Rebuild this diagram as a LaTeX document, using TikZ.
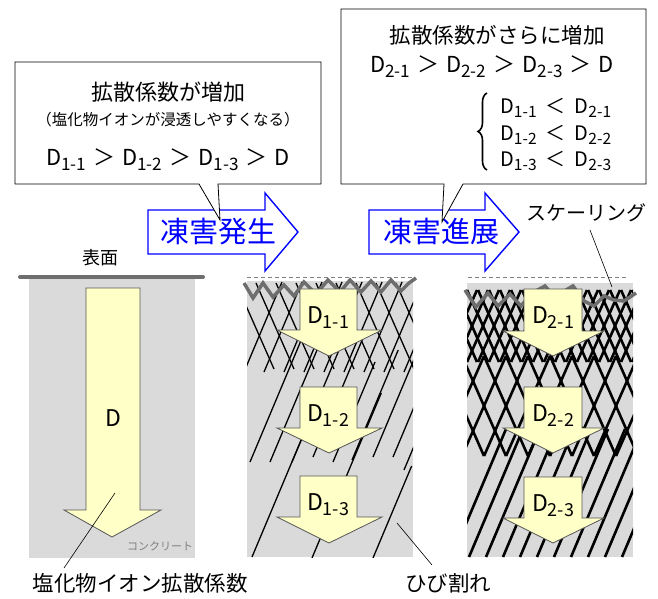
\documentclass[tikz,border=0pt]{standalone}
\usepackage{fontspec}
\setmainfont{Noto Sans CJK JP}
\usetikzlibrary{decorations.pathreplacing}

\definecolor{concrete}{HTML}{DADADA}
\definecolor{flowfill}{HTML}{FFFFC8}
\definecolor{flowedge}{HTML}{555555}
\definecolor{surface}{HTML}{6E6E6E}
\definecolor{frostblue}{HTML}{0000FF}

\newcommand\fsz[1]{\fontsize{#1}{#1}\selectfont}
\newcommand\Dsub[1]{D\raisebox{-0.22em}{\scalebox{0.78}{#1}}}
\newcommand\gtr{\hspace{0.32em}＞\hspace{0.32em}}
\newcommand\lss{\hspace{0.45em}＜\hspace{0.45em}}

\tikzset{
  x=1pt, y=-1pt,
  concretebox/.style={fill=concrete, draw=none},
  flowarrow/.style={fill=flowfill, draw=flowedge, line width=0.8pt, line join=miter},
  crack/.style={black, line width=1.3pt},
  heavycrack/.style={black, line width=2.6pt},
  surfaceline/.style={surface, line width=3.5pt, line join=miter},
  oldsurface/.style={gray, line width=0.7pt, dash pattern=on 4pt off 3pt},
  callout/.style={fill=white, draw=black, line width=0.8pt, line join=miter},
  stagearrow/.style={fill=white, draw=frostblue, line width=1.4pt, line join=miter},
  stagetext/.style={text=frostblue, font=\fsz{29}, inner sep=0pt},
  lbl/.style={inner sep=0pt, text=black},
  leader/.style={black, line width=0.6pt},
}

\begin{document}
\begin{tikzpicture}
\useasboundingbox (0,0) rectangle (658,599);

% ---------- sound concrete ----------
\fill[concretebox] (29,278) rectangle (195,558);
\draw[surface, line width=4pt, line cap=round] (20,277) -- (203,277);
\node[lbl, font=\fsz{18}] (hyomen) at (100,258) {表面};
\draw[flowarrow] (86,288) -- (140,288) -- (140,510) -- (161,510) -- (112,537)
  -- (64,510) -- (86,510) -- cycle;
\node[lbl, font=\fsz{23}] (dD) at (113,418) {D};
\node[lbl, font=\fsz{11}, text=gray] (conc) at (160,546) {コンクリート};
\coordinate (leadA) at (115,493);
\node[lbl, font=\fsz{21.5}] (diffA) at (140,583) {塩化物イオン拡散係数};
\draw[leader] (leadA) -- (64,568);

% ---------- frost damage onset ----------
\fill[concretebox] (247,281) rectangle (413,557);
\begin{scope}
  \clip (247,281) rectangle (413,557);
  \foreach \x in {236,256,...,416} \draw[crack] (\x,283) -- ++(38,86);
  \foreach \x in {244,264,...,424} \draw[crack] (\x,372) -- ++(38,-90);
  \foreach \x/\y/\h in {250/462/125, 270/462/125, 292/462/110, 313/457/120,
      333/462/100, 352/460/110, 373/457/115, 393/457/110,
      252/557/122, 312/558/165, 373/558/92, 404/470/35}
    \draw[crack] (\x,\y) -- ++({0.42*\h},{-\h});
\end{scope}
\draw[oldsurface] (247,277) -- (415,277);
\draw[surfaceline] (244,283) -- (253,298) -- (263,283) -- (273,297) -- (284,285)
  -- (294,296) -- (304,282) -- (316,294) -- (328,280) -- (340,292) -- (350,280)
  -- (361,292) -- (371,281) -- (381,292) -- (391,280) -- (401,291) -- (409,283)
  -- (416,278);
\draw[flowarrow] (300,289) -- (357,289) -- (357,330) -- (382,330) -- (329,356)
  -- (277,330) -- (300,330) -- cycle;
\draw[flowarrow] (300,387) -- (357,387) -- (357,428) -- (382,428) -- (329,453)
  -- (277,428) -- (300,428) -- cycle;
\draw[flowarrow] (300,476) -- (357,476) -- (357,517) -- (382,517) -- (329,543)
  -- (277,517) -- (300,517) -- cycle;
\node[lbl, font=\fsz{23}] (d11) at (328,318) {\Dsub{1-1}};
\node[lbl, font=\fsz{23}] (d12) at (328,416) {\Dsub{1-2}};
\node[lbl, font=\fsz{23}] (d13) at (328,505) {\Dsub{1-3}};
\coordinate (leadB) at (397,523);
\node[lbl, font=\fsz{21.5}] (crk) at (448,583) {ひび割れ};
\draw[leader] (leadB) -- (432,565);

% ---------- frost damage progressed ----------
\fill[concretebox] (467,283) rectangle (633,557);
\begin{scope}
  \clip (467,283) rectangle (633,557);
  \foreach \x in {434,445,...,640} {
    \draw[heavycrack] (\x,290) -- ++(32,72);
    \draw[heavycrack] (\x,362) -- ++(32,-72);
  }
  \foreach \x in {440,462,...,640} {
    \draw[heavycrack] (\x,356) -- ++(44,100);
    \draw[heavycrack] (\x,456) -- ++(44,-100);
  }
  \foreach \x in {452,469,...,640}
    \draw[heavycrack] (\x,557) -- ++(54,-128);
\end{scope}
\draw[oldsurface] (468,277) -- (628,277);
\draw[surfaceline] (465,290) -- (476,307) -- (488,293) -- (498,306) -- (510,294)
  -- (521,306) -- (532,293) -- (545,286) -- (556,299) -- (566,290) -- (573,286)
  -- (584,301) -- (594,306) -- (604,296) -- (614,300) -- (624,301) -- (636,293);
\draw[flowarrow] (524,289) -- (582,289) -- (582,331) -- (604,331) -- (553,356)
  -- (503,331) -- (524,331) -- cycle;
\draw[flowarrow] (524,387) -- (582,387) -- (582,428) -- (604,428) -- (553,453)
  -- (503,428) -- (524,428) -- cycle;
\draw[flowarrow] (524,477) -- (582,477) -- (582,518) -- (604,518) -- (553,543)
  -- (503,518) -- (524,518) -- cycle;
\node[lbl, font=\fsz{23}] (d21) at (553,318) {\Dsub{2-1}};
\node[lbl, font=\fsz{23}] (d22) at (553,416) {\Dsub{2-2}};
\node[lbl, font=\fsz{23}] (d23) at (553,506) {\Dsub{2-3}};
\node[lbl, font=\fsz{20}] (scal) at (586,213) {スケーリング};
\coordinate (leadC) at (612,287);
\draw[leader] (590,230) -- (leadC);

% ---------- stage arrows ----------
\draw[stagearrow] (148,210) -- (265,210) -- (265,193) -- (298,232) -- (265,271)
  -- (265,254) -- (148,254) -- cycle;
\node[stagetext] (st1) at (218,232) {凍害発生};
\draw[stagearrow] (369,210) -- (485,210) -- (485,193) -- (519,232) -- (485,271)
  -- (485,254) -- (369,254) -- cycle;
\node[stagetext] (st2) at (441,232) {凍害進展};

% ---------- callouts ----------
\draw[callout] (15,62) -- (321,62) -- (321,184) -- (218,184) -- (220,220)
  -- (199,184) -- (15,184) -- cycle;
\node[lbl, font=\fsz{22}] (c1a) at (168,92) {拡散係数が増加};
\node[lbl, font=\fsz{15.5}] (c1b) at (168,120) {（塩化物イオンが浸透しやすくなる）};
\node[lbl, font=\fsz{22}] (c1c) at (168,160)
  {\Dsub{1-1}\gtr\Dsub{1-2}\gtr\Dsub{1-3}\gtr D};

\draw[callout] (341,9) -- (646,9) -- (646,184) -- (463,184) -- (442,222)
  -- (444,184) -- (341,184) -- cycle;
\node[lbl, font=\fsz{21.5}] (c2a) at (497,35) {拡散係数がさらに増加};
\node[lbl, font=\fsz{22}] (c2b) at (492,67)
  {\Dsub{2-1}\gtr\Dsub{2-2}\gtr\Dsub{2-3}\gtr D};
\node[lbl, font=\fsz{20}, anchor=west] (r1) at (500,108) {\Dsub{1-1}\lss\Dsub{2-1}};
\node[lbl, font=\fsz{20}, anchor=west] (r2) at (500,135) {\Dsub{1-2}\lss\Dsub{2-2}};
\node[lbl, font=\fsz{20}, anchor=west] (r3) at (500,161) {\Dsub{1-3}\lss\Dsub{2-3}};
\draw[black, line width=1.6pt, decorate, decoration={brace, amplitude=9pt}]
  (487,170) -- (487,93);
\end{tikzpicture}
\end{document}
